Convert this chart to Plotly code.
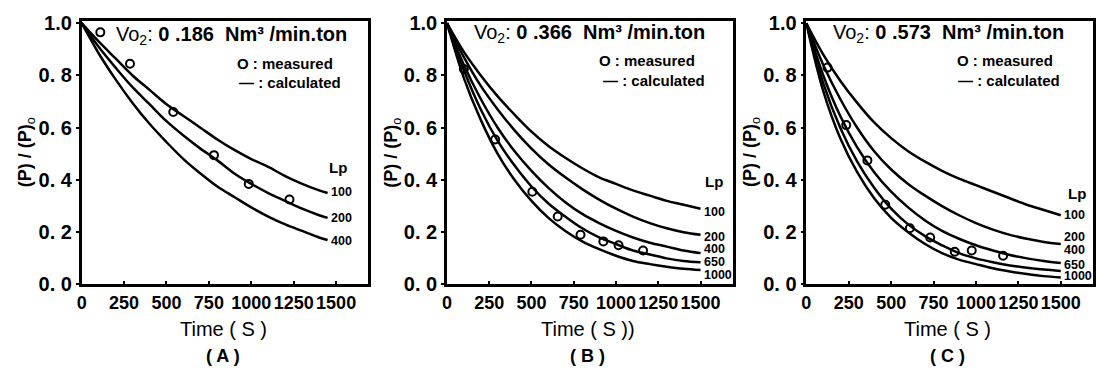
import plotly.graph_objects as go

# ---------------- data ----------------
t_calc = [0, 100, 200, 300, 400, 500, 600, 700, 800, 900, 1000, 1100, 1200, 1300, 1400, 1450]
A_100 = [1.0, 0.93, 0.865, 0.80, 0.745, 0.69, 0.645, 0.60, 0.555, 0.515, 0.48, 0.45, 0.415, 0.385, 0.36, 0.35]
A_200 = [1.0, 0.91, 0.83, 0.755, 0.69, 0.625, 0.57, 0.52, 0.475, 0.425, 0.385, 0.35, 0.32, 0.29, 0.265, 0.255]
A_400 = [1.0, 0.885, 0.785, 0.695, 0.615, 0.545, 0.48, 0.425, 0.375, 0.335, 0.295, 0.26, 0.23, 0.205, 0.18, 0.17]
A_meas_t = [110, 285, 540, 780, 985, 1225]
A_meas_p = [0.965, 0.845, 0.66, 0.495, 0.385, 0.325]

t_calc_bc = [0, 100, 200, 300, 400, 500, 600, 700, 800, 900, 1000, 1100, 1200, 1300, 1400, 1500]
B_100 = [1.0, 0.89, 0.80, 0.72, 0.65, 0.585, 0.53, 0.485, 0.445, 0.41, 0.385, 0.36, 0.34, 0.32, 0.305, 0.29]
B_200 = [1.0, 0.87, 0.76, 0.67, 0.59, 0.52, 0.46, 0.41, 0.365, 0.325, 0.29, 0.26, 0.235, 0.215, 0.20, 0.19]
B_400 = [1.0, 0.84, 0.71, 0.60, 0.51, 0.435, 0.37, 0.315, 0.27, 0.235, 0.205, 0.18, 0.16, 0.145, 0.13, 0.12]
B_650 = [1.0, 0.82, 0.67, 0.55, 0.455, 0.375, 0.31, 0.26, 0.215, 0.18, 0.155, 0.13, 0.115, 0.10, 0.09, 0.085]
B_1000 = [1.0, 0.79, 0.63, 0.50, 0.40, 0.32, 0.255, 0.205, 0.165, 0.135, 0.11, 0.09, 0.078, 0.068, 0.06, 0.055]
B_meas_t = [100, 285, 505, 655, 790, 925, 1015, 1160]
B_meas_p = [0.825, 0.555, 0.355, 0.26, 0.19, 0.165, 0.15, 0.13]

C_100 = [1.0, 0.88, 0.78, 0.695, 0.62, 0.56, 0.51, 0.47, 0.435, 0.405, 0.38, 0.355, 0.33, 0.305, 0.285, 0.265]
C_200 = [1.0, 0.84, 0.71, 0.60, 0.51, 0.44, 0.385, 0.34, 0.30, 0.265, 0.235, 0.21, 0.19, 0.175, 0.163, 0.155]
C_400 = [1.0, 0.80, 0.645, 0.525, 0.43, 0.355, 0.295, 0.245, 0.205, 0.175, 0.15, 0.13, 0.113, 0.10, 0.09, 0.082]
C_650 = [1.0, 0.77, 0.60, 0.47, 0.37, 0.29, 0.23, 0.185, 0.15, 0.12, 0.10, 0.085, 0.073, 0.064, 0.057, 0.052]
C_1000 = [1.0, 0.74, 0.56, 0.43, 0.33, 0.255, 0.20, 0.155, 0.12, 0.095, 0.078, 0.062, 0.05, 0.04, 0.032, 0.027]
C_meas_t = [125, 235, 360, 465, 610, 730, 875, 975, 1160]
C_meas_p = [0.83, 0.61, 0.475, 0.305, 0.215, 0.18, 0.125, 0.13, 0.11]

lp_labels_A = ["100", "200", "400"]
lp_labels_BC = ["100", "200", "400", "650", "1000"]
x_ticks = [0, 250, 500, 750, 1000, 1250, 1500]
y_ticks = [0.0, 0.2, 0.4, 0.6, 0.8, 1.0]
y_ticktext = ["0. 0", "0. 2", "0. 4", "0. 6", "0. 8", "1.0"]
vo2 = ["0 .186", "0 .366", "0 .573"]
panel_letters = ["( A )", "( B )", "( C )"]
x_titles = ["Time ( S )", "Time ( S ))", "Time ( S )"]

# ---------------- layout geometry ----------------
W, H = 1097, 381
panels_px = [(77, 365), (444, 731), (805, 1093)]
y_bot_px, y_top_px = 291, 13.25

def px(x):
    return x / W

def py(y):
    return 1 - y / H

BOLD = "Liberation Sans, Arial, sans-serif"

fig = go.Figure()

panels = [
    (t_calc, [A_100, A_200, A_400], lp_labels_A, A_meas_t, A_meas_p, [1, 0, -1]),
    (t_calc_bc, [B_100, B_200, B_400, B_650, B_1000], lp_labels_BC, B_meas_t, B_meas_p, [-3, -2, 4, 0, -5]),
    (t_calc_bc, [C_100, C_200, C_400, C_650, C_1000], lp_labels_BC, C_meas_t, C_meas_p, [0, 7, 13, 6, 1]),
]

annotations = []
for i, (tt, curves, labels, mt, mp, shifts) in enumerate(panels):
    xa = "x" if i == 0 else f"x{i+1}"
    ya = "y" if i == 0 else f"y{i+1}"
    for c, lab, sh in zip(curves, labels, shifts):
        fig.add_trace(go.Scatter(x=tt, y=c, mode="lines", line=dict(color="black", width=2.5, shape="spline"),
                                 xaxis=xa, yaxis=ya, showlegend=False, hoverinfo="skip"))
        annotations.append(dict(x=tt[-1], y=c[-1], xref=xa, yref=ya, text=f"<b>{lab}</b>", showarrow=False,
                                xanchor="left", yanchor="middle", xshift=2, yshift=sh, borderpad=0,
                                font=dict(family=BOLD, size=12.5, color="black")))
    fig.add_trace(go.Scatter(x=mt, y=mp, mode="markers",
                             marker=dict(symbol="circle-open", size=8, color="black", line=dict(width=2, color="black")),
                             xaxis=xa, yaxis=ya, showlegend=False))

    x0, x1 = panels_px[i]
    dom = [px(x0), px(x1)]
    axis_common = dict(showline=True, linecolor="black", linewidth=2.5, mirror=True, showgrid=False, zeroline=False)
    fig.update_layout(**{
        ("xaxis" if i == 0 else f"xaxis{i+1}"): dict(
            domain=dom, range=[0, 1690], tickvals=x_ticks, ticktext=[f"<b>{v}</b>" for v in x_ticks],
            tickangle=0, ticks="inside", ticklen=4, tickwidth=1.5,
            tickcolor="black", anchor=ya,
            tickfont=dict(family=BOLD, size=18, color="black"), **axis_common),
        ("yaxis" if i == 0 else f"yaxis{i+1}"): dict(
            domain=[py(y_bot_px), py(y_top_px)], range=[0, 1.01], tickvals=y_ticks,
            ticktext=[f"<b>{s}</b>" for s in y_ticktext],
            ticks="outside", ticklen=3, tickwidth=1.5, tickcolor="black", anchor=xa,
            tickfont=dict(family=BOLD, size=20, color="black"), **axis_common),
    })

    cx = (x0 + x1) / 2
    # header text
    annotations.append(dict(x=px(x0 + (34 if i == 0 else 26)), y=py(29 if i == 0 else 27), xref="paper", yref="paper",
                            xanchor="left", yanchor="middle", showarrow=False, borderpad=0,
                            text=f"Vo<sub>2</sub>: <b>{vo2[i]}</b>  <b>Nm³ /min.ton</b>",
                            font=dict(family=BOLD, size=20, color="black")))
    annotations.append(dict(x=px(x0 + (155 if i == 0 else 152 if i == 1 else 150)), y=py(58 if i == 0 else 55),
                            xref="paper", yref="paper", xanchor="left", yanchor="middle", showarrow=False, borderpad=0,
                            text="<b>O : measured</b>", font=dict(family=BOLD, size=15, color="black")))
    annotations.append(dict(x=px(x0 + (157 if i == 0 else 156 if i == 1 else 151)), y=py(78 if i == 0 else 76),
                            xref="paper", yref="paper", xanchor="left", yanchor="middle", showarrow=False, borderpad=0,
                            text="<b>— : calculated</b>", font=dict(family=BOLD, size=15, color="black")))
    annotations.append(dict(x=px(x0 + (258 if i == 0 else 268 if i == 1 else 272)), y=py(168 if i == 0 else 183 if i == 1 else 195),
                            xref="paper", yref="paper", xanchor="center", yanchor="middle", showarrow=False,
                            text="<b>Lp</b>", font=dict(family=BOLD, size=15, color="black")))
    # y title
    annotations.append(dict(x=px(x0 - 55), y=py(152), xref="paper", yref="paper", textangle=-90,
                            xanchor="center", yanchor="middle", showarrow=False,
                            text="<b>(P) / (P)</b><sub>o</sub>", font=dict(family=BOLD, size=18, color="black")))
    # x title
    annotations.append(dict(x=px(cx - 2), y=py(338), xref="paper", yref="paper", xanchor="center", yanchor="middle",
                            showarrow=False, text=x_titles[i], font=dict(family=BOLD, size=20, color="black")))
    annotations.append(dict(x=px(cx - 2), y=py(366), xref="paper", yref="paper", xanchor="center", yanchor="middle",
                            showarrow=False, text=f"<b>{panel_letters[i]}</b>", font=dict(family=BOLD, size=18, color="black")))

fig.update_layout(width=W, height=H, margin=dict(l=0, r=0, t=0, b=0), paper_bgcolor="white", plot_bgcolor="white",
                  annotations=annotations, showlegend=False)

fig.write_html("out.html")
